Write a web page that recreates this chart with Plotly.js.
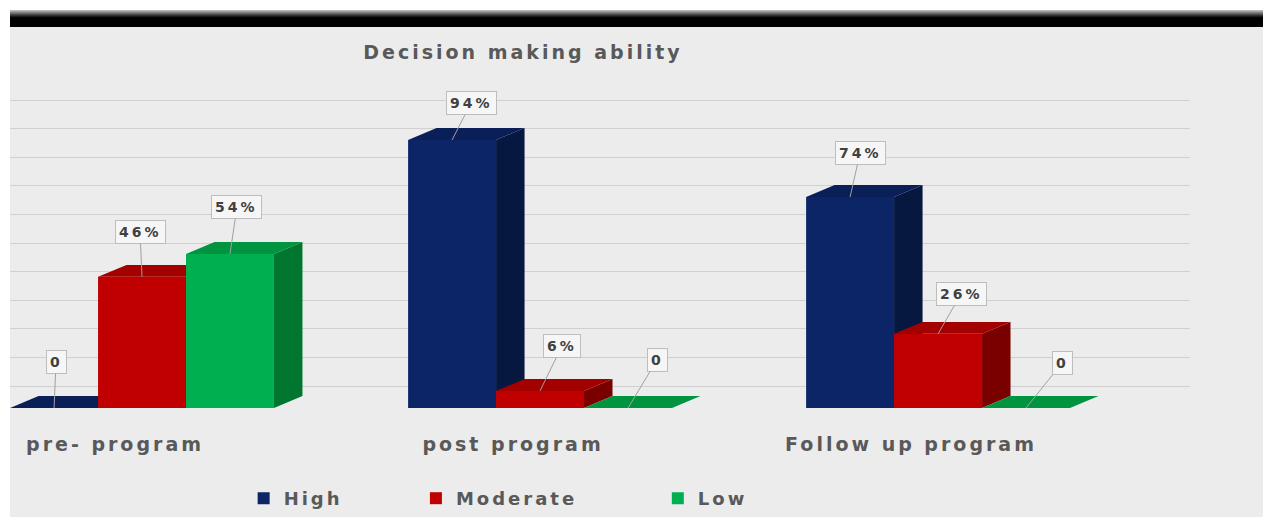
<!DOCTYPE html>
<html>
<head>
<meta charset="utf-8">
<script src="https://cdn.plot.ly/plotly-3.0.1.min.js"></script>
<style>
  html, body { margin: 0; padding: 0; background: #ffffff; width: 1263px; height: 517px; overflow: hidden; }
  #topbar { position: absolute; left: 10px; top: 10px; width: 1253px; height: 17px;
            background: linear-gradient(#c8c8c8 0%, #3a3a3a 30%, #000 45%, #000 100%); }
  #chart { position: absolute; left: 10px; top: 27px; width: 1253px; height: 490px; }
  text { letter-spacing: 3px; }
</style>
</head>
<body>
<div id="topbar"></div>
<div id="chart"></div>
<script>
// ---- data ----
const categories = ['pre- program', 'post program', 'Follow up program'];
const seriesNames = ['High', 'Moderate', 'Low'];
const high = [0, 94, 74];
const moderate = [46, 6, 26];
const low = [54, 0, 0];
const chartTitle = 'Decision making ability';

// ---- style ----
const series = [high, moderate, low];
const frontColors = ['#0b2566', '#c00000', '#00b050'];
const sideColors  = ['#061740', '#7a0000', '#00762f'];
const topColors   = ['#0a1f57', '#a30000', '#009440'];
const legendIds = ['legend', 'legend2', 'legend3'];
const barW = 0.221;      // bar width in category units
const depthX = 0.0716;   // 3D depth, x units
const depthY = 4.18;     // 3D depth, value units
const wallOffset = 7.67; // back-wall gridline offset (value units)
const wallStep = 10.03;  // back-wall gridline spacing (value units)
// label offsets in pixels [dx, dy] per category/series
const labelOffsets = [
  [[2, -46], [-2, -45], [7, -47]],
  [[19, -37], [22, -45], [29, -48]],
  [[10, -44], [23, -40], [36, -45]]
];
const labelText = v => v === 0 ? '0' : v + '%';

const xs = categories.map((_, i) => i);
const traces = series.map((vals, j) => ({
  type: 'bar',
  name: seriesNames[j],
  x: xs,
  y: vals,
  width: barW,
  offset: (j - 1.5) * barW,
  legend: legendIds[j],
  marker: { color: frontColors[j], line: { width: 0 } },
  hoverinfo: 'skip'
}));

const shapes = [];
const annotations = [];
xs.forEach(i => {
  series.forEach((vals, j) => {
    const v = vals[i];
    const left = i + (j - 1.5) * barW;
    const right = left + barW;
    shapes.push({
      type: 'path', xref: 'x', yref: 'y', layer: 'between',
      path: `M${right},0 L${right + depthX},${depthY} L${right + depthX},${v + depthY} L${right},${v} Z`,
      fillcolor: sideColors[j], line: { width: 0 }
    });
    shapes.push({
      type: 'path', xref: 'x', yref: 'y', layer: 'between',
      path: `M${left},${v} L${right},${v} L${right + depthX},${v + depthY} L${left + depthX},${v + depthY} Z`,
      fillcolor: topColors[j], line: { width: 0 }
    });
    annotations.push({
      xref: 'x', yref: 'y', x: left + barW / 2, y: v,
      text: labelText(v),
      showarrow: true, arrowhead: 0, arrowwidth: 1, arrowcolor: '#a0a0a0',
      ax: labelOffsets[i][j][0], ay: labelOffsets[i][j][1],
      bgcolor: '#f6f6f6', bordercolor: '#bdbdbd', borderwidth: 1, borderpad: 3,
      font: { family: 'DejaVu Sans', size: 14, color: '#404040', weight: 'bold' }
    });
  });
});

const legendFont = { family: 'DejaVu Sans', size: 18, color: '#595959', weight: 'bold' };
const legendBase = { orientation: 'h', y: -0.285, yanchor: 'middle', xanchor: 'left',
                     bgcolor: 'rgba(0,0,0,0)', font: legendFont };

const layout = {
  width: 1253, height: 490,
  margin: { l: 0, r: 73, t: 63, b: 107 },
  paper_bgcolor: '#ececec',
  plot_bgcolor: '#ececec',
  barmode: 'overlay',
  title: {
    text: chartTitle,
    font: { family: 'DejaVu Sans', size: 19, color: '#595959', weight: 'bold' },
    x: 0.4347, xref: 'paper', xanchor: 'center',
    y: 0.949, yref: 'container', yanchor: 'middle'
  },
  xaxis: {
    range: [-0.3317, 2.633],
    tickvals: xs, ticktext: categories,
    tickfont: { family: 'DejaVu Sans', size: 19, color: '#595959', weight: 'bold' },
    ticklabelshift: -27, ticklabelstandoff: 23,
    showgrid: false, zeroline: false, showline: false, ticks: ''
  },
  yaxis: {
    range: [0, 111.5], tickmode: 'linear', tick0: wallOffset, dtick: wallStep,
    showgrid: true, showticklabels: false, gridcolor: '#d0d0d0', gridwidth: 1,
    zeroline: false, showline: false, ticks: ''
  },
  shapes: shapes,
  annotations: annotations,
  legend: Object.assign({}, legendBase, { x: 0.198 }),
  legend2: Object.assign({}, legendBase, { x: 0.344 }),
  legend3: Object.assign({}, legendBase, { x: 0.549 }),
  showlegend: true
};

Plotly.newPlot('chart', traces, layout, { displayModeBar: false, staticPlot: true });
</script>
</body>
</html>
